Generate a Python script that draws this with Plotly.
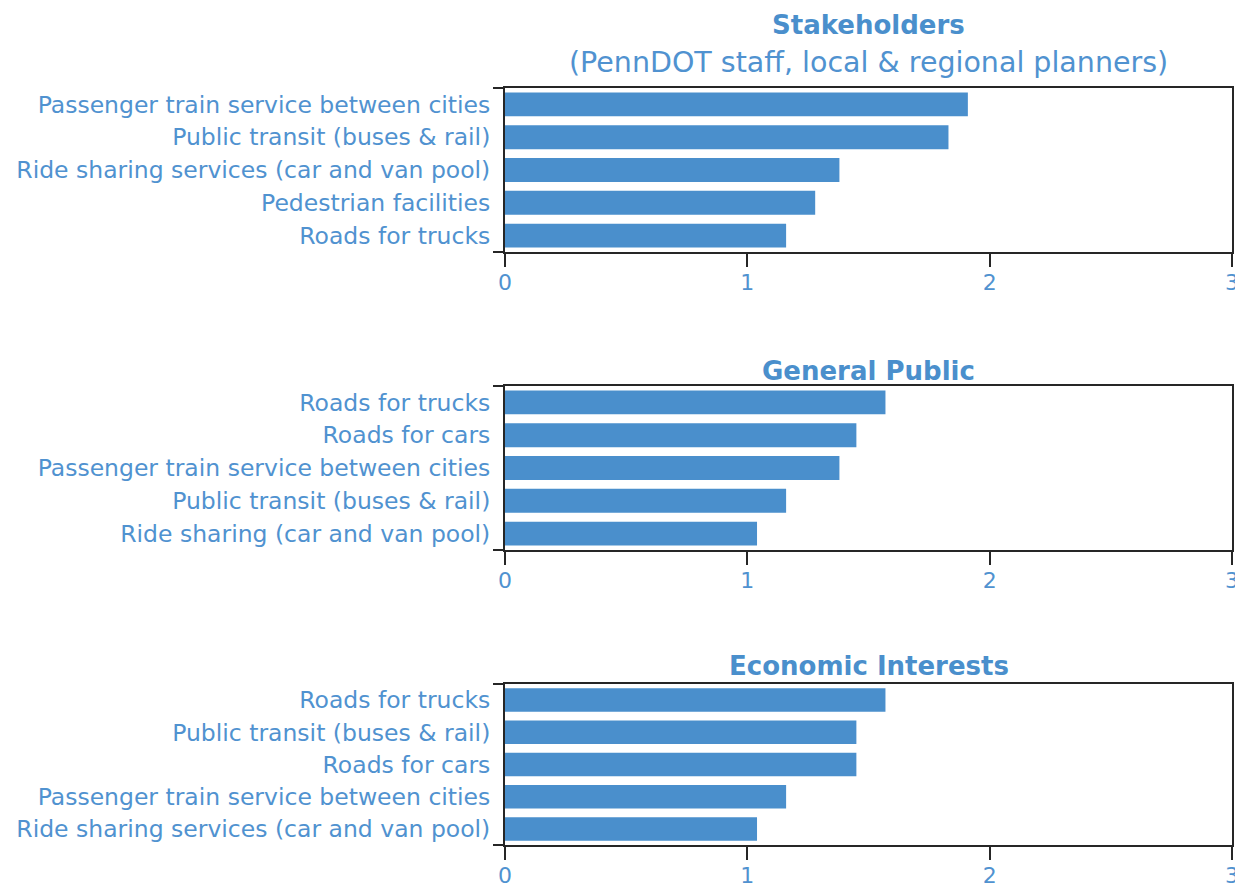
import plotly.graph_objects as go

# ---- data ----
stake_cats = ["Passenger train service between cities",
              "Public transit (buses & rail)",
              "Ride sharing services (car and van pool)",
              "Pedestrian facilities",
              "Roads for trucks"]
stake_vals = [1.91, 1.83, 1.38, 1.28, 1.16]

public_cats = ["Roads for trucks",
               "Roads for cars",
               "Passenger train service between cities",
               "Public transit (buses & rail)",
               "Ride sharing (car and van pool)"]
public_vals = [1.57, 1.45, 1.38, 1.16, 1.04]

econ_cats = ["Roads for trucks",
             "Public transit (buses & rail)",
             "Roads for cars",
             "Passenger train service between cities",
             "Ride sharing services (car and van pool)"]
econ_vals = [1.57, 1.45, 1.45, 1.16, 1.04]

x_ticks = [0, 1, 2, 3]
panel_titles = ["<b>Stakeholders</b>", "<b>General Public</b>", "<b>Economic Interests</b>"]
subtitle = "(PennDOT staff, local & regional planners)"

# ---- style ----
BAR = "#4a8fcc"
TXT = "#5092d0"
AX = "#262626"
FONT = "DejaVu Sans"
OFF = 8          # page body margin offset
W = 1243 - OFF
H = 888 - OFF

panels = [(stake_cats, stake_vals), (public_cats, public_vals), (econ_cats, econ_vals)]
# plot-area pixel extents (top, bottom) for each panel, page coordinates
px_extents = [(88, 252), (386, 550), (684, 845)]
title_px = [25, 371, 666]
sub_px = 62

fig = go.Figure()
layout = {}
for k, ((cats, vals), (top, bot)) in enumerate(zip(panels, px_extents), start=1):
    sfx = "" if k == 1 else str(k)
    fig.add_trace(go.Bar(
        x=vals, y=list(range(len(cats))), orientation="h",
        xaxis="x" + sfx, yaxis="y" + sfx,
        width=0.73, marker=dict(color=BAR, line=dict(width=0)),
        showlegend=False, hoverinfo="x+text", text=cats, textposition="none"))
    dom = [(H - (bot - OFF)) / H, (H - (top - OFF)) / H]
    layout["xaxis" + sfx] = dict(
        domain=[0, 1], anchor="y" + sfx, range=[0, 3],
        tickmode="array", tickvals=x_ticks, ticktext=[str(t) for t in x_ticks],
        ticks="outside", ticklen=13, tickwidth=2, tickcolor=AX,
        ticklabelstandoff=-3,
        showline=True, linecolor=AX, linewidth=2, mirror=True,
        showgrid=False, zeroline=False, automargin=False,
        tickfont=dict(family=FONT, size=22, color=TXT))
    layout["yaxis" + sfx] = dict(
        domain=dom, anchor="x" + sfx, range=[len(cats) - 0.5, -0.5],
        tickmode="array", tickvals=list(range(len(cats))), ticktext=cats,
        ticks="outside", ticklen=8, tickcolor="rgba(0,0,0,0)",
        minor=dict(tickmode="array", tickvals=[-0.5, len(cats) - 0.5],
                   ticks="outside", ticklen=10, tickwidth=2, tickcolor=AX),
        showline=True, linecolor=AX, linewidth=2, mirror=True,
        showgrid=False, zeroline=False, automargin=False,
        tickfont=dict(family=FONT, size=23.5, color=TXT))

annotations = []
for t, ypx in zip(panel_titles, title_px):
    annotations.append(dict(text=t, xref="paper", yref="paper", x=0.5,
                            y=(H - (ypx - OFF)) / H,
                            xanchor="center", yanchor="middle", showarrow=False,
                            font=dict(family=FONT, size=26, color=BAR)))
annotations.append(dict(text=subtitle, xref="paper", yref="paper", x=0.5,
                        y=(H - (sub_px - OFF)) / H,
                        xanchor="center", yanchor="middle", showarrow=False,
                        font=dict(family=FONT, size=28.5, color=TXT)))

fig.update_layout(
    **layout,
    annotations=annotations,
    width=W, height=H,
    margin=dict(l=505 - OFF, r=W - (1232 - OFF), t=0, b=0, autoexpand=False),
    template="none",
    paper_bgcolor="white", plot_bgcolor="white",
    font=dict(family=FONT, color=TXT),
)

fig.write_html("out.html")
